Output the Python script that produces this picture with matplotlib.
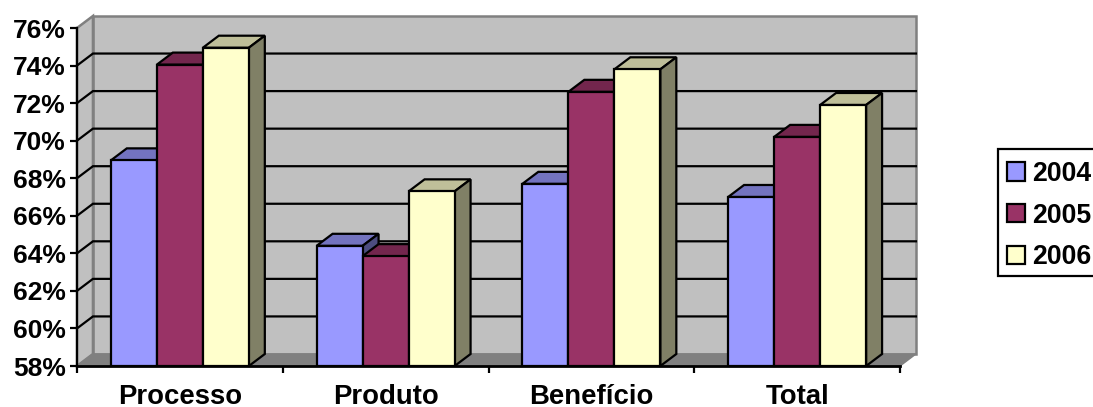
import matplotlib
matplotlib.use("Agg")
import matplotlib.pyplot as plt
from matplotlib.patches import Polygon, Patch, Rectangle
from matplotlib.colors import to_rgb

categories = ["Processo", "Produto", "Benefício", "Total"]
years = ["2004", "2005", "2006"]
values_2004 = [68.95, 64.4, 67.7, 67.0]
values_2005 = [74.05, 63.85, 72.6, 70.2]
values_2006 = [74.95, 67.3, 73.8, 71.9]
y_ticks = [58, 60, 62, 64, 66, 68, 70, 72, 74, 76]

colors = ["#9999FF", "#993366", "#FFFFCC"]
WALL = "#C0C0C0"
EDGE = "#808080"
BAR_W = 0.2236
# offset of the back wall from the front plane, in data units
DX = 0.0775
DY = 0.64

plt.rcParams["font.family"] = ["Liberation Sans", "DejaVu Sans"]
plt.rcParams["font.weight"] = "bold"
plt.rcParams["font.size"] = 19


def shade(color, k):
    return tuple(c * k for c in to_rgb(color))


fig = plt.figure(figsize=(10.93, 4.07), dpi=100)
ax = fig.add_axes([77 / 1093, 1 - 366 / 407, 823 / 1093, 338 / 407])
ax.set_xlim(0, 4)
ax.set_ylim(58, 76)
ax.patch.set_visible(False)

# back wall, side wall and floor
ax.add_patch(Polygon([(DX, 58 + DY), (4 + DX, 58 + DY), (4 + DX, 76 + DY), (DX, 76 + DY)],
                     fc=WALL, ec=EDGE, lw=1.8, clip_on=False, zorder=1))
ax.add_patch(Polygon([(0, 58), (DX, 58 + DY), (DX, 76 + DY), (0, 76)],
                     fc=WALL, ec=EDGE, lw=1.8, clip_on=False, zorder=1))
ax.add_patch(Polygon([(0, 58), (4, 58), (4 + DX, 58 + DY), (DX, 58 + DY)],
                     fc=EDGE, ec=EDGE, lw=1, clip_on=False, zorder=1.5))

for t in y_ticks[1:-1]:
    ax.plot([0, DX, 4 + DX], [t, t + DY, t + DY], color="black", lw=1.6,
            clip_on=False, zorder=2, solid_joinstyle="miter")

series = [values_2004, values_2005, values_2006]
for i, vals in enumerate(series):
    xs = [c + 0.5 + (i - 1) * BAR_W for c in range(len(categories))]
    z = 3 + i
    ax.bar(xs, [v - 58 for v in vals], bottom=58, width=BAR_W, color=colors[i],
           edgecolor="black", linewidth=1.6, zorder=z + 0.2)
    for x, v in zip(xs, vals):
        left, right = x - BAR_W / 2, x + BAR_W / 2
        ax.add_patch(Polygon([(left, v), (right, v), (right + DX, v + DY), (left + DX, v + DY)],
                             fc=shade(colors[i], 0.75), ec="black", lw=1.6,
                             clip_on=False, zorder=z))
        ax.add_patch(Polygon([(right, 58), (right + DX, 58 + DY), (right + DX, v + DY), (right, v)],
                             fc=shade(colors[i], 0.5), ec="black", lw=1.6,
                             clip_on=False, zorder=z))

for s in ["top", "right"]:
    ax.spines[s].set_visible(False)
ax.spines["left"].set_linewidth(1.6)
ax.spines["bottom"].set_linewidth(2)
ax.spines["left"].set_zorder(7)
ax.spines["bottom"].set_zorder(7)

ax.set_yticks(y_ticks)
ax.set_yticklabels([f"{t}%" for t in y_ticks])
ax.tick_params(axis="y", length=5, width=1.6, pad=3)
ax.set_xticks(range(5))
ax.set_xticklabels([])
ax.tick_params(axis="x", which="major", length=5, width=1.6)
ax.set_xticks([c + 0.5 for c in range(4)], minor=True)
ax.set_xticklabels(categories, minor=True)
ax.tick_params(axis="x", which="minor", length=0, pad=13, labelsize=19.8)

# legend box runs off the right side of the figure
fig.add_artist(Rectangle((998 / 1093, 1 - 276 / 407), 110 / 1093, 127 / 407,
                         transform=fig.transFigure, fc="white", ec="black", lw=1.6))
handles = [Patch(fc=c, ec="black", lw=1.6) for c in colors]
fig.legend(handles, years, loc="upper left",
           bbox_to_anchor=(1007 / 1093, 1 - 161 / 407), bbox_transform=fig.transFigure,
           frameon=False, handlelength=0.68, handleheight=0.68, handletextpad=0.26,
           labelspacing=0.585, borderpad=0, borderaxespad=0, fontsize=19.2)

fig.savefig("out.png", dpi=100)
